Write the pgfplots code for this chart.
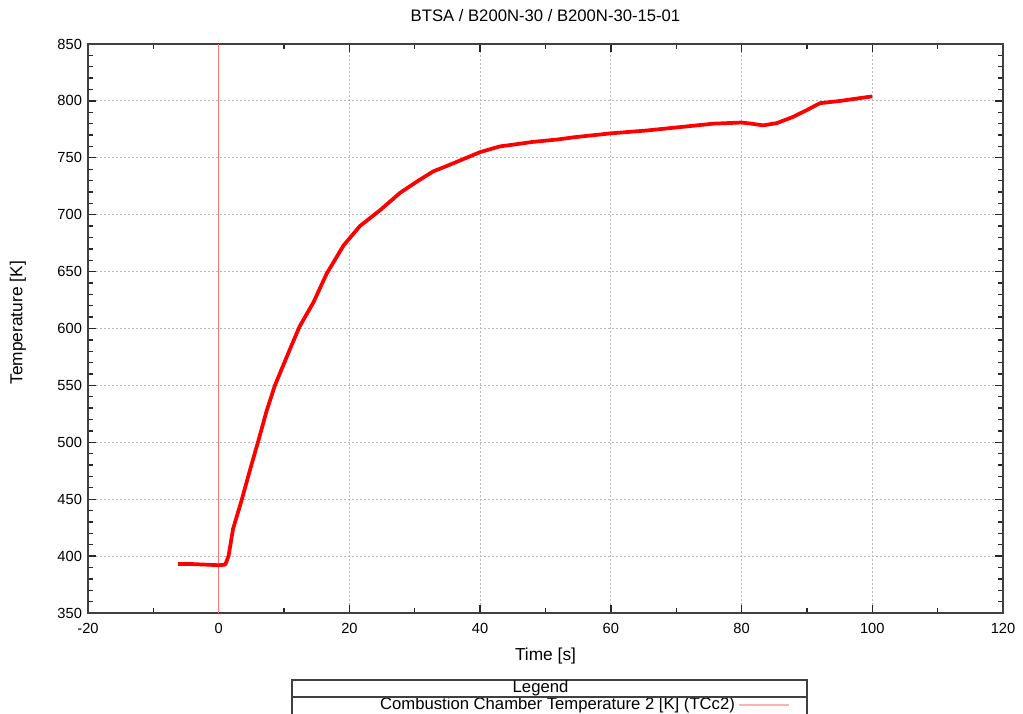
\documentclass[border=0pt]{standalone}
\usepackage{fontspec}
\setmainfont{Liberation Sans}
\usepackage{pgfplots}
\pgfplotsset{compat=1.18}
\begin{document}
\begin{tikzpicture}
\path[use as bounding box] (-66pt,-75pt) rectangle (701.25pt,459.75pt);
\begin{axis}[
  at={(0,0)}, anchor=south west,
  width=686.25pt, height=426.75pt, scale only axis,
  xmin=-20, xmax=120, ymin=350, ymax=850,
  xtick={-20,0,...,120}, ytick={350,400,...,850},
  minor x tick num=1, minor y tick num=4,
  /pgf/number format/assume math mode=true,
  font=\fontsize{11}{13}\selectfont,
  grid=major,
  grid style={gray!55, line width=0.8pt, dash pattern=on 1.5pt off 1.5pt},
  axis line style={black!75, line width=1.2pt},
  tick style={black!85, line width=1pt},
  major tick length=6pt, minor tick length=3.5pt,
  yticklabel style={xshift=-1pt},
  xticklabel style={yshift=-4pt},
  title={BTSA / B200N-30 / B200N-30-15-01},
  title style={at={(0.5,1)}, anchor=center, yshift=15.5pt, font=\fontsize{12.5}{14}\selectfont},
  xlabel={Time [s]},
  xlabel style={at={(0.5,0)}, anchor=center, yshift=-32.25pt, font=\fontsize{13}{15}\selectfont},
  ylabel={Temperature [K]},
  ylabel style={at={(-0.0765,0.51)}, anchor=center, font=\fontsize{13}{15}\selectfont},
  legend style={draw=none, fill=none, inner sep=1pt, at={(0.542,-0.1615)}, anchor=center, font=\fontsize{12.5}{14}\selectfont},
  legend plot pos=right,
  legend image code/.code={\draw[#1] (0pt,0pt) -- (38pt,0pt);},
]
\addplot[red!55, line width=0.9pt, forget plot] coordinates {(0,350) (0,850)};
\addplot[red, line width=2.8pt, line join=round, forget plot] coordinates {
(-6.2,393) (-4,393) (-2,392.5) (0,392) (1,392.5) (1.5,400) (2.2,424) (3.5,449)
(4.8,476) (6.1,502) (7.3,527) (8.6,550) (9.9,568) (11.2,586) (12.4,602)
(14.5,623) (16.5,648) (19.1,673) (21.6,690) (24.7,704) (27.7,719) (30.3,729)
(32.8,738) (35.4,744) (37.9,750) (40,755) (43,760) (45.6,762) (48.1,764)
(51.7,766) (54.3,768) (60,771.5) (65.5,774) (70.6,777) (75.7,780) (80,781)
(81.5,780) (83.3,778.5) (85.4,780.5) (87.9,786) (90,792) (92,798) (95.1,800)
(100,804)};
\addlegendimage{red!30, line width=1.6pt}
\addlegendentry{Combustion Chamber Temperature 2 [K] (TCc2)}
\end{axis}
\draw[black!75, line width=1.3pt] (153pt,-85pt) -- (153pt,-50.25pt) -- (539.25pt,-50.25pt) -- (539.25pt,-85pt);
\draw[black!75, line width=1pt] (153pt,-63pt) -- (539.25pt,-63pt);
\node[font=\fontsize{12.5}{14}\selectfont] at (339.4pt,-56.6pt) {Legend};
\end{tikzpicture}
\end{document}
